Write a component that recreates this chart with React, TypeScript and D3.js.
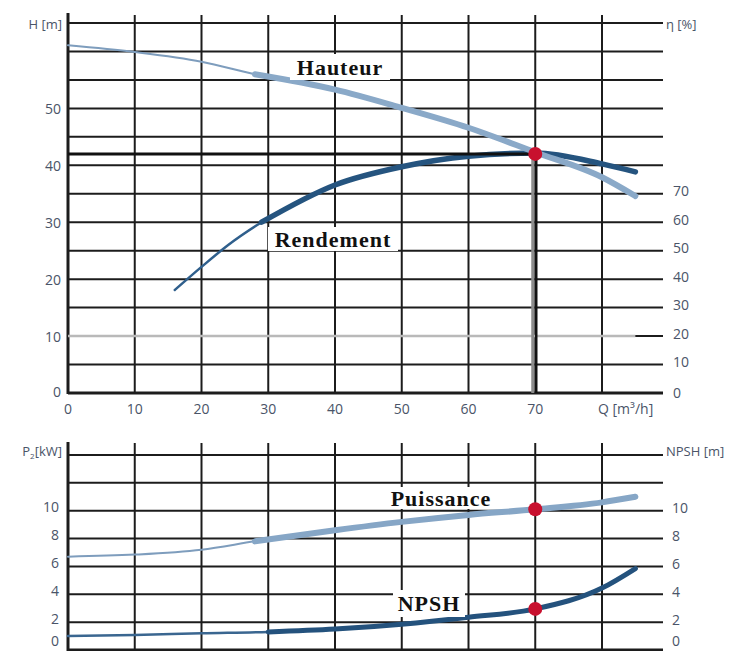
import React from "react";
import * as d3 from "d3";

// Pump characteristic curves: head / efficiency (top), power / NPSH (bottom)
const flowTicks = [0, 10, 20, 30, 40, 50, 60, 70];
const headTicks = [0, 10, 20, 30, 40, 50];
const etaTicks = [0, 10, 20, 30, 40, 50, 60, 70];
const powerTicks = [0, 2, 4, 6, 8, 10];
const npshTicks = [0, 2, 4, 6, 8, 10];

const hauteurQ = [0, 10, 20, 28, 40, 50, 60, 70, 80, 85];
const hauteurH = [61.1, 59.9, 58.2, 56.0, 53.3, 50.1, 46.6, 42.3, 37.9, 34.6];

const rendementQ = [16, 20, 24, 29, 40, 50, 60, 70, 80, 85];
const rendementEta = [36.2, 44.3, 52.0, 60.0, 73.1, 79.5, 83.2, 84.3, 80.5, 77.7];

const puissanceQ = [0, 10, 20, 28, 40, 50, 60, 70, 80, 85];
const puissanceP = [6.7, 6.85, 7.2, 7.8, 8.6, 9.2, 9.7, 10.1, 10.6, 11.0];

const npshQ = [0, 10, 20, 30, 40, 50, 60, 70, 80, 85];
const npshM = [1.0, 1.08, 1.2, 1.3, 1.5, 1.85, 2.35, 2.95, 4.45, 5.85];

// Operating point
const opQ = 70;
const opH = 42;
const opP = 10.1;
const opNpsh = 2.95;

// Reference line at 10 m head
const refQ = [0, 85];
const refH = [10, 10];

const FONT = "'Open Sans', 'DejaVu Sans', sans-serif";
const LABEL_FILL = "#4a5468";
const GRID = "#1c1c1c";

const x = d3.scaleLinear().domain([0, 80]).range([68, 602]);
const yH = d3.scaleLinear().domain([0, 65]).range([393, 23]);
const yEta = d3.scaleLinear().domain([0, 130]).range([393, 23]);
const yP = d3.scaleLinear().domain([0, 14]).range([650, 455]);

const GRID_RIGHT = 663;

function pts(q: number[], v: number[]) {
  return q.map((d, i) => [d, v[i]] as [number, number]);
}

function makeLine(ys: d3.ScaleLinear<number, number>) {
  return d3
    .line<[number, number]>()
    .x((d) => x(d[0]))
    .y((d) => ys(d[1]))
    .curve(d3.curveMonotoneX);
}

function TwoStroke({
  q,
  v,
  ys,
  from,
  thinColor,
  thickColor,
  thin,
  thick,
}: {
  q: number[];
  v: number[];
  ys: d3.ScaleLinear<number, number>;
  from: number;
  thinColor: string;
  thickColor: string;
  thin: number;
  thick: number;
}) {
  const line = makeLine(ys);
  const all = pts(q, v);
  const heavy = all.filter((d) => d[0] >= from);
  return (
    <g fill="none" strokeLinecap="round">
      <path d={line(all) || ""} stroke={thinColor} strokeWidth={thin} />
      <path d={line(heavy) || ""} stroke={thickColor} strokeWidth={thick} />
    </g>
  );
}

function Label({
  x0,
  y0,
  w,
  h,
  text,
}: {
  x0: number;
  y0: number;
  w: number;
  h: number;
  text: string;
}) {
  return (
    <g>
      <rect x={x0} y={y0} width={w} height={h} fill="#fff" />
      <text
        x={x0 + w / 2}
        y={y0 + h / 2}
        textAnchor="middle"
        dominantBaseline="central"
        fontFamily="'Liberation Serif', 'Times New Roman', serif"
        fontWeight="bold"
        fontSize={22}
        letterSpacing={1}
        fill="#111"
      >
        {text}
      </text>
    </g>
  );
}

export default function App() {
  const headGrid = d3.range(0, 66, 5);
  const powerGrid = d3.range(0, 15, 2);
  const vGrid = d3.range(0, 81, 10);

  return (
    <svg
      width={734}
      height={651}
      style={{ position: "absolute", left: 0, top: 0, background: "#fff" }}
      fontFamily={FONT}
    >
      {/* ---------- top chart grid ---------- */}
      <g stroke={GRID} strokeWidth={2}>
        {headGrid.map((h) => (
          <line key={"h" + h} x1={x(0)} x2={GRID_RIGHT} y1={yH(h)} y2={yH(h)} />
        ))}
        {vGrid.map((q) => (
          <line key={"v" + q} x1={x(q)} x2={x(q)} y1={15} y2={yH(0)} />
        ))}
        <line x1={x(0)} x2={x(0)} y1={13} y2={yH(0) + 1} strokeWidth={3} />
        <line x1={x(0)} x2={GRID_RIGHT} y1={yH(0)} y2={yH(0)} strokeWidth={3} />
      </g>

      {/* reference line at 10 m */}
      <path
        d={makeLine(yH)(pts(refQ, refH)) || ""}
        stroke="#b9b9b9"
        strokeWidth={2.5}
        fill="none"
      />

      {/* operating point guide lines */}
      <line x1={x(opQ) - 2.5} x2={x(opQ) - 2.5} y1={yH(opH)} y2={yH(0)} stroke="#8c8c8c" strokeWidth={3} />
      <line x1={x(opQ) + 1} x2={x(opQ) + 1} y1={yH(opH)} y2={yH(0)} stroke="#111" strokeWidth={2.5} />

      {/* efficiency */}
      <TwoStroke
        q={rendementQ}
        v={rendementEta}
        ys={yEta}
        from={29}
        thinColor="#2f5f8c"
        thickColor="#25547f"
        thin={2.5}
        thick={5.5}
      />
      <line x1={x(0)} x2={x(opQ)} y1={yH(opH)} y2={yH(opH)} stroke="#111" strokeWidth={3} />

      {/* head */}
      <TwoStroke
        q={hauteurQ}
        v={hauteurH}
        ys={yH}
        from={28}
        thinColor="#7e9dbd"
        thickColor="#8aa9c8"
        thin={2}
        thick={6}
      />

      <circle cx={x(opQ)} cy={yH(opH)} r={7} fill="#c8102e" />

      <Label x0={290} y0={54} w={100} h={26} text="Hauteur" />
      <Label x0={268} y0={227} w={130} h={24} text="Rendement" />

      {/* top axes labels */}
      <g fill={LABEL_FILL} fontSize={14}>
        {headTicks.map((h) => (
          <text key={"lh" + h} x={61} y={yH(h) - (h === 0 ? 2 : 0)} textAnchor="end" dominantBaseline="central">
            {h}
          </text>
        ))}
        {etaTicks.map((e) => (
          <text key={"le" + e} x={673} y={yEta(e) - (e === 0 ? 1 : 3)} dominantBaseline="central">
            {e}
          </text>
        ))}
        {flowTicks.map((q) => (
          <text key={"lq" + q} x={x(q)} y={408} textAnchor="middle" dominantBaseline="central">
            {q}
          </text>
        ))}
        <text x={598} y={408} dominantBaseline="central">
          Q [m³/h]
        </text>
        <text x={62} y={24} textAnchor="end" dominantBaseline="central" fontSize={13}>
          H [m]
        </text>
        <text x={666} y={24} dominantBaseline="central" fontSize={13}>
          η [%]
        </text>
      </g>

      {/* ---------- bottom chart grid ---------- */}
      <g stroke={GRID} strokeWidth={2}>
        {powerGrid.map((p) => (
          <line key={"p" + p} x1={x(0)} x2={GRID_RIGHT} y1={yP(p)} y2={yP(p)} strokeWidth={p === 0 ? 3 : 2} />
        ))}
        {vGrid.map((q) => (
          <line key={"bv" + q} x1={x(q)} x2={x(q)} y1={443} y2={651} />
        ))}
        <line x1={x(0)} x2={x(0)} y1={442} y2={651} strokeWidth={3} />
      </g>

      <TwoStroke
        q={puissanceQ}
        v={puissanceP}
        ys={yP}
        from={28}
        thinColor="#7e9dbd"
        thickColor="#86a6c6"
        thin={2}
        thick={6}
      />
      <TwoStroke
        q={npshQ}
        v={npshM}
        ys={yP}
        from={30}
        thinColor="#3a6690"
        thickColor="#24527d"
        thin={2.5}
        thick={5}
      />

      <circle cx={x(opQ)} cy={yP(opP)} r={7} fill="#c8102e" />
      <circle cx={x(opQ)} cy={yP(opNpsh)} r={7} fill="#c8102e" />

      <Label x0={385} y0={487} w={112} h={22} text="Puissance" />
      <Label x0={393} y0={590} w={72} h={27} text="NPSH" />

      <g fill={LABEL_FILL} fontSize={14}>
        {powerTicks.map((p) => (
          <text key={"lp" + p} x={59} y={p === 0 ? 640 : yP(p) - 4} textAnchor="end" dominantBaseline="central">
            {p}
          </text>
        ))}
        {npshTicks.map((n) => (
          <text key={"ln" + n} x={672} y={n === 0 ? 640 : yP(n) - 3} dominantBaseline="central">
            {n}
          </text>
        ))}
        <text x={62} y={451} textAnchor="end" dominantBaseline="central" fontSize={13}>
          P<tspan fontSize={8} dy={4}>2</tspan>
          <tspan dy={-4}>[kW]</tspan>
        </text>
        <text x={666} y={451} dominantBaseline="central" fontSize={13}>
          NPSH [m]
        </text>
      </g>
    </svg>
  );
}
